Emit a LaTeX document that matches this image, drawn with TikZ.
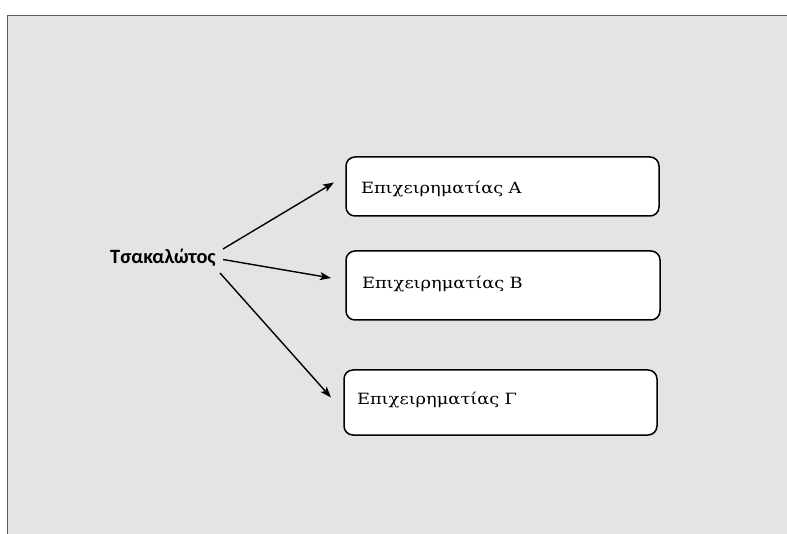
\documentclass[tikz,border=0pt]{standalone}
\usepackage{fontspec}
\setmainfont{DejaVu Serif}[FakeStretch=1.15]
\newfontfamily\srcfont{Carlito}
\usetikzlibrary{arrows.meta}
\definecolor{panel}{HTML}{E4E4E4}
\definecolor{rim}{HTML}{5E5E5E}
\begin{document}
\begin{tikzpicture}[x=1pt,y=-1pt,
  box/.style={draw=black, line width=1.5pt, rounded corners=9pt, fill=white,
    align=left, font=\fontsize{15.5}{17}\selectfont, text depth=0pt},
  arr/.style={line width=1.4pt, -{Stealth[length=11pt,width=8pt,inset=2.5pt]}}]
\useasboundingbox (0,0) rectangle (787,534);
\fill[panel] (8,16) rectangle (787,534);
\draw[rim, line width=1.6pt] (7.5,534) -- (7.5,15.5) -- (787,15.5);
\node[anchor=base west, inner sep=0pt, font=\srcfont\bfseries\fontsize{20.3}{23}\selectfont] (src) at (110,263.3) {Τσακαλώτος};
\node[box, text width=283pt, inner xsep=15pt, minimum height=59pt, text height=13.6pt] (A) at (502.5,186.5) {Επιχειρηματίας Α};
\node[box, text width=282pt, inner xsep=16pt, minimum height=69pt, text height=7pt] (B) at (503,285.5) {Επιχειρηματίας Β};
\node[box, text width=287pt, inner xsep=13pt, minimum height=65pt, text height=3pt] (C) at (500.5,402.5) {Επιχειρηματίας Γ};
\coordinate (sA) at (223,249);
\coordinate (tA) at (334,182.5);
\coordinate (sB) at (223,259.5);
\coordinate (tB) at (331,278);
\coordinate (sC) at (220,273);
\coordinate (tC) at (331,397.5);
\draw[arr] (sA) -- (tA);
\draw[arr] (sB) -- (tB);
\draw[arr] (sC) -- (tC);
\end{tikzpicture}
\end{document}
